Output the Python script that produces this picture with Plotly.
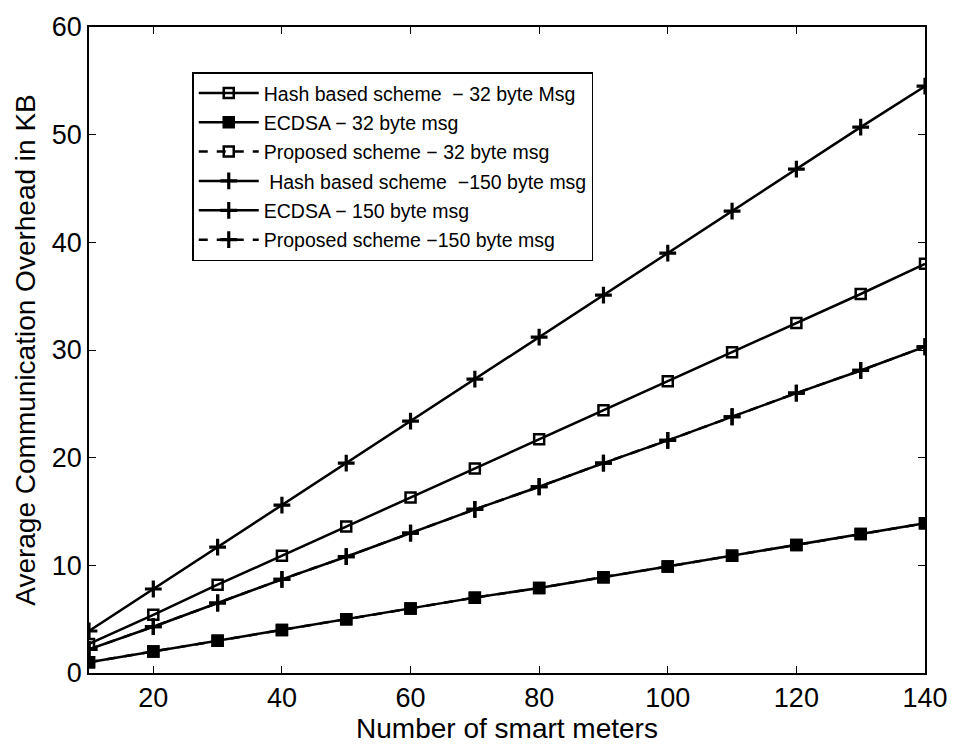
import plotly.graph_objects as go

meters = [10, 20, 30, 40, 50, 60, 70, 80, 90, 100, 110, 120, 130, 140]

hash_32 = [2.7, 5.4, 8.2, 10.9, 13.6, 16.3, 19.0, 21.7, 24.4, 27.1, 29.8, 32.5, 35.2, 38.0]
ecdsa_32 = [1.0, 2.0, 3.0, 4.0, 5.0, 6.0, 7.0, 7.9, 8.9, 9.9, 10.9, 11.9, 12.9, 13.9]
proposed_32 = [1.0, 2.0, 3.0, 4.0, 5.0, 6.0, 7.0, 7.9, 8.9, 9.9, 10.9, 11.9, 12.9, 13.9]
hash_150 = [3.9, 7.8, 11.7, 15.6, 19.5, 23.4, 27.3, 31.2, 35.1, 39.0, 42.9, 46.8, 50.7, 54.5]
ecdsa_150 = [2.2, 4.3, 6.5, 8.7, 10.8, 13.0, 15.2, 17.3, 19.5, 21.6, 23.8, 26.0, 28.1, 30.3]
proposed_150 = [2.2, 4.3, 6.5, 8.7, 10.8, 13.0, 15.2, 17.3, 19.5, 21.6, 23.8, 26.0, 28.1, 30.3]

names = [
    "Hash based scheme \u00a0\u2212 32 byte Msg",
    "ECDSA \u2212 32 byte msg",
    "Proposed scheme \u2212 32 byte msg",
    "\u00a0Hash based scheme \u00a0\u2212150 byte msg",
    "ECDSA \u2212 150 byte msg",
    "Proposed scheme \u2212150 byte msg",
]
series = [hash_32, ecdsa_32, proposed_32, hash_150, ecdsa_150, proposed_150]
symbols = ["square-open", "square", "square-open", "cross-thin", "cross-thin", "cross-thin"]
dashes = ["solid", "solid", "dash", "solid", "solid", "dash"]

fig = go.Figure()
for i, (nm, ys, sym, ds) in enumerate(zip(names, series, symbols, dashes)):
    is_sq = sym.startswith("square")
    fig.add_trace(go.Scatter(
        x=meters, y=ys, name=nm, mode="lines+markers",
        legendgroup=f"g{i}",
        line=dict(color="black", width=2.5, dash=ds),
        marker=dict(symbol=sym, size=10 if is_sq else 12, color="black",
                    line=dict(color="black", width=2.5 if is_sq else 3.2)),
    ))

font_family = "Liberation Sans, Arial, sans-serif"
fig.update_layout(
    width=960, height=749,
    margin=dict(l=89, r=29, t=15, b=74),
    paper_bgcolor="white", plot_bgcolor="white",
    font=dict(family=font_family, color="black"),
    showlegend=True,
    legend=dict(
        x=0.1235, y=0.93, xanchor="left", yanchor="top",
        bgcolor="white", bordercolor="black", borderwidth=1.5,
        font=dict(size=19.5, family=font_family, color="black"),
        traceorder="grouped", tracegroupgap=1, itemwidth=60,
    ),
    xaxis=dict(
        range=[10, 140], tickvals=[20, 40, 60, 80, 100, 120, 140],
        showgrid=False, zeroline=False, showline=True, linecolor="black", linewidth=1.5,
        mirror="allticks", ticks="inside", ticklen=7, tickcolor="black",
        tickfont=dict(size=27), title=dict(text="Number of smart meters", font=dict(size=28), standoff=4),
    ),
    yaxis=dict(
        range=[0, 60], tickvals=[0, 10, 20, 30, 40, 50, 60],
        showgrid=False, zeroline=False, showline=True, linecolor="black", linewidth=1.5,
        mirror="allticks", ticks="inside", ticklen=7, tickcolor="black",
        tickfont=dict(size=27), title=dict(text="Average Communication Overhead in KB", font=dict(size=28), standoff=8),
    ),
)

fig.write_html("out.html")
